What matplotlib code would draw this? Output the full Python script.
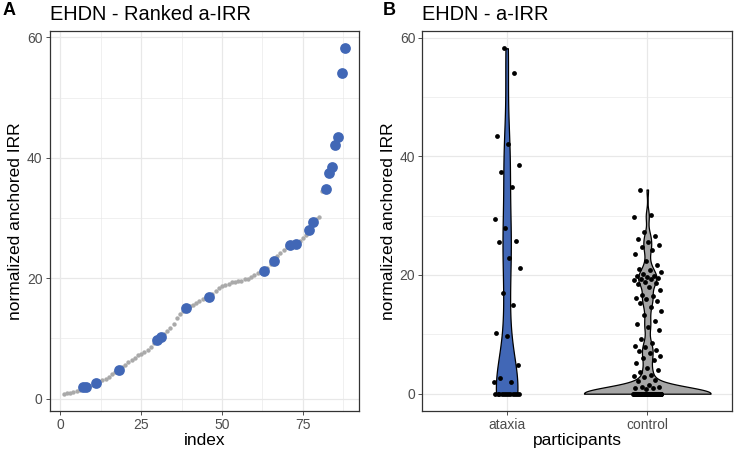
import numpy as np
import matplotlib.pyplot as plt

plt.rcParams['font.family'] = ['Liberation Sans', 'DejaVu Sans']

# non-zero anchored IRR values, sorted (rank 1..88)
irr_sorted = [0.8, 0.9, 1.0, 1.1, 1.2, 1.4, 1.9, 1.95, 2.1, 2.3,
              2.6, 2.8, 3.0, 3.2, 3.6, 4.0, 4.4, 4.8, 5.2, 5.6,
              6.0, 6.4, 6.8, 7.2, 7.4, 7.8, 8.1, 8.6, 9.2, 9.8,
              10.3, 10.8, 11.2, 11.8, 12.3, 13.3, 14.0, 14.6, 15.0, 15.3,
              15.6, 15.9, 16.2, 16.5, 16.7, 16.9, 17.4, 17.9, 18.4, 18.7,
              18.9, 19.1, 19.3, 19.4, 19.5, 19.6, 19.8, 19.9, 20.2, 20.5,
              20.8, 21.0, 21.2, 21.7, 22.3, 22.9, 23.6, 24.2, 24.7, 25.1,
              25.5, 25.6, 25.7, 26.1, 26.6, 27.2, 28.0, 29.4, 29.8, 30.1,
              34.4, 34.8, 37.4, 38.5, 42.1, 43.4, 54.1, 58.2]
# ranks that belong to ataxia participants
ataxia_ranks = [7, 8, 11, 18, 30, 31, 39, 46, 63, 66, 71, 73, 77, 78,
                82, 83, 84, 85, 86, 87, 88]
# participants with a zero anchored IRR
n_zero = {'ataxia': 12, 'control': 80}
groups = ['ataxia', 'control']
bandwidth = {'ataxia': 5.5, 'control': 1.1}

blue = '#4167b6'
light_grey = '#aaaaaa'
fills = {'ataxia': blue, 'control': '#a6a6a6'}

ranks = np.arange(1, len(irr_sorted) + 1)
irr = np.array(irr_sorted)
is_ataxia = np.isin(ranks, ataxia_ranks)

values = {
    'ataxia': np.concatenate([np.zeros(n_zero['ataxia']), irr[is_ataxia]]),
    'control': np.concatenate([np.zeros(n_zero['control']), irr[~is_ataxia]]),
}


def theme_bw(ax):
    for s in ax.spines.values():
        s.set_color('#333333')
        s.set_linewidth(0.9)
    ax.grid(True, which='major', color='#e8e8e8', lw=0.9)
    ax.grid(True, which='minor', color='#e8e8e8', lw=0.45)
    ax.set_axisbelow(True)
    ax.tick_params(which='major', length=3, width=0.6, color='#333333',
                   labelsize=10, labelcolor='#4d4d4d', pad=2)
    ax.tick_params(which='minor', length=0)


def kde(data, grid, bw):
    z = (grid[:, None] - data[None, :]) / bw
    return np.exp(-0.5 * z ** 2).sum(axis=1) / (len(data) * bw * np.sqrt(2 * np.pi))


def jitter(n, start):
    k = np.arange(start, start + n)
    return ((k * 0.6180339887) % 1 - 0.5) * 0.2


fig = plt.figure(figsize=(7.38, 4.57), dpi=100)
ax1 = fig.add_axes([0.0671, 0.1007, 0.4194, 0.8315])
ax2 = fig.add_axes([0.5722, 0.1007, 0.4192, 0.8315])

# panel A: ranked values
theme_bw(ax1)
ax1.scatter(ranks, irr, s=10, color=light_grey, lw=0, zorder=2)
ax1.scatter(ranks[is_ataxia], irr[is_ataxia], s=60, color=blue, lw=0, zorder=3)
ax1.set_xlim(-3.35, 92.35)
ax1.set_ylim(-2.07, 61.07)
ax1.set_xticks([0, 25, 50, 75])
ax1.set_xticks([12.5, 37.5, 62.5, 87.5], minor=True)
ax1.set_yticks([0, 20, 40, 60])
ax1.set_yticks([10, 30, 50], minor=True)
ax1.set_xlabel('index', fontsize=12.5, labelpad=1)
ax1.set_ylabel('normalized anchored IRR', fontsize=12.5, labelpad=3)
ax1.set_title('EHDN - Ranked a-IRR', loc='left', fontsize=14.4, pad=8)

# panel B: violins + jittered points
theme_bw(ax2)
dens = {}
for g in groups:
    v = values[g]
    grid = np.linspace(v.min(), v.max(), 512)
    dens[g] = (grid, kde(v, grid, bandwidth[g]))
dmax = max(d.max() for _, d in dens.values())
for i, g in enumerate(groups, start=1):
    grid, d = dens[g]
    w = d / dmax * 0.45
    ax2.fill_betweenx(grid, i - w, i + w, facecolor=fills[g],
                      edgecolor='black', lw=0.9, zorder=2)
start = 1
for i, g in enumerate(groups, start=1):
    v = values[g]
    ax2.scatter(i + jitter(len(v), start), v, s=12, color='black', lw=0, zorder=3)
    start += len(v)
ax2.set_xlim(0.4, 2.6)
ax2.set_ylim(-2.91, 61.11)
ax2.set_xticks([1, 2])
ax2.set_xticklabels(groups)
ax2.set_yticks([0, 20, 40, 60])
ax2.set_yticks([10, 30, 50], minor=True)
ax2.set_xlabel('participants', fontsize=12.5, labelpad=1)
ax2.set_ylabel('normalized anchored IRR', fontsize=12.5, labelpad=3)
ax2.set_title('EHDN - a-IRR', loc='left', fontsize=14.4, pad=8)

fig.text(0.004, 0.976, 'A', fontsize=13, weight='bold', va='center')
fig.text(0.519, 0.976, 'B', fontsize=13, weight='bold', va='center')

fig.savefig('out.png', dpi=100)
